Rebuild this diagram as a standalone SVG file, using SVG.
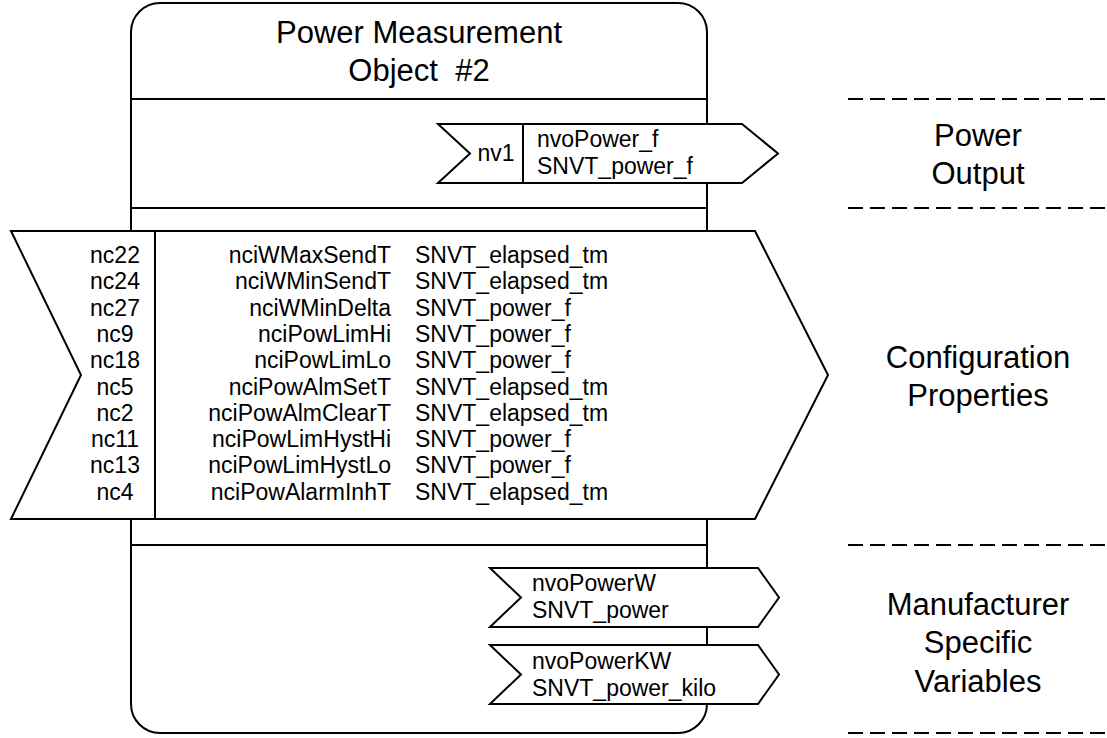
<svg xmlns="http://www.w3.org/2000/svg" width="1107" height="738" viewBox="0 0 1107 738">
<style>
.s{fill:#fff;stroke:#000;stroke-width:2;stroke-linejoin:miter}
.ln{stroke:#000;stroke-width:2;fill:none}
.d{stroke:#000;stroke-width:2;stroke-dasharray:15 7;fill:none}
text{font-family:"Liberation Sans",Arial,sans-serif;fill:#000}
.big{font-size:31px;text-anchor:middle}
.sm{font-size:23px}
.c{text-anchor:middle}
.r{text-anchor:end}
</style>
<rect width="1107" height="738" fill="#fff"/>
<g id="object">
<rect class="s" x="131" y="3" width="576" height="730" rx="29" ry="29"/>
<line class="ln" x1="131" y1="99" x2="707" y2="99"/>
<line class="ln" x1="131" y1="208" x2="707" y2="208"/>
<line class="ln" x1="131" y1="545" x2="707" y2="545"/>
<text class="big" x="419" y="43">Power Measurement</text>
<text class="big" x="419" y="81" xml:space="preserve">Object  #2</text>
</g>
<g id="nv1">
<polygon class="s" points="438,124 742,124 778,153.5 742,183 438,183 470,153.5"/>
<line class="ln" x1="523" y1="124" x2="523" y2="183"/>
<text class="sm c" x="496" y="161">nv1</text>
<text class="sm" x="537" y="147">nvoPower_f</text>
<text class="sm" x="537" y="174">SNVT_power_f</text>
</g>
<g id="config">
<polygon class="s" points="11,231 755,231 828,375 755,519 11,519 81,375"/>
<line class="ln" x1="155" y1="231" x2="155" y2="519"/>
<g class="sm">
<text class="sm c" x="115" y="263">nc22</text>
<text class="sm c" x="115" y="289.3">nc24</text>
<text class="sm c" x="115" y="315.6">nc27</text>
<text class="sm c" x="115" y="341.9">nc9</text>
<text class="sm c" x="115" y="368.2">nc18</text>
<text class="sm c" x="115" y="394.5">nc5</text>
<text class="sm c" x="115" y="420.8">nc2</text>
<text class="sm c" x="115" y="447.1">nc11</text>
<text class="sm c" x="115" y="473.4">nc13</text>
<text class="sm c" x="115" y="499.7">nc4</text>
<text class="sm r" x="391" y="263">nciWMaxSendT</text>
<text class="sm r" x="391" y="289.3">nciWMinSendT</text>
<text class="sm r" x="391" y="315.6">nciWMinDelta</text>
<text class="sm r" x="391" y="341.9">nciPowLimHi</text>
<text class="sm r" x="391" y="368.2">nciPowLimLo</text>
<text class="sm r" x="391" y="394.5">nciPowAlmSetT</text>
<text class="sm r" x="391" y="420.8">nciPowAlmClearT</text>
<text class="sm r" x="391" y="447.1">nciPowLimHystHi</text>
<text class="sm r" x="391" y="473.4">nciPowLimHystLo</text>
<text class="sm r" x="391" y="499.7">nciPowAlarmInhT</text>
<text class="sm" x="415" y="263">SNVT_elapsed_tm</text>
<text class="sm" x="415" y="289.3">SNVT_elapsed_tm</text>
<text class="sm" x="415" y="315.6">SNVT_power_f</text>
<text class="sm" x="415" y="341.9">SNVT_power_f</text>
<text class="sm" x="415" y="368.2">SNVT_power_f</text>
<text class="sm" x="415" y="394.5">SNVT_elapsed_tm</text>
<text class="sm" x="415" y="420.8">SNVT_elapsed_tm</text>
<text class="sm" x="415" y="447.1">SNVT_power_f</text>
<text class="sm" x="415" y="473.4">SNVT_power_f</text>
<text class="sm" x="415" y="499.7">SNVT_elapsed_tm</text>
</g>
</g>
<g id="nvoPowerW">
<polygon class="s" points="490,568 758,568 779,597.5 758,627 490,627 521,597.5"/>
<text class="sm" x="532" y="591">nvoPowerW</text>
<text class="sm" x="532" y="618">SNVT_power</text>
</g>
<g id="nvoPowerKW">
<polygon class="s" points="490,645 758,645 779,674.5 758,704 490,704 521,674.5"/>
<text class="sm" x="532" y="669">nvoPowerKW</text>
<text class="sm" x="532" y="696">SNVT_power_kilo</text>
</g>
<g id="sections">
<line class="d" x1="848" y1="99" x2="1107" y2="99"/>
<line class="d" x1="848" y1="208" x2="1107" y2="208"/>
<line class="d" x1="848" y1="545" x2="1107" y2="545"/>
<line class="d" x1="848" y1="733" x2="1107" y2="733"/>
<text class="big" x="978" y="146">Power</text>
<text class="big" x="978" y="184">Output</text>
<text class="big" x="978" y="368">Configuration</text>
<text class="big" x="978" y="406">Properties</text>
<text class="big" x="978" y="615">Manufacturer</text>
<text class="big" x="978" y="653">Specific</text>
<text class="big" x="978" y="692">Variables</text>
</g>
<g id="connectors"></g>
</svg>
